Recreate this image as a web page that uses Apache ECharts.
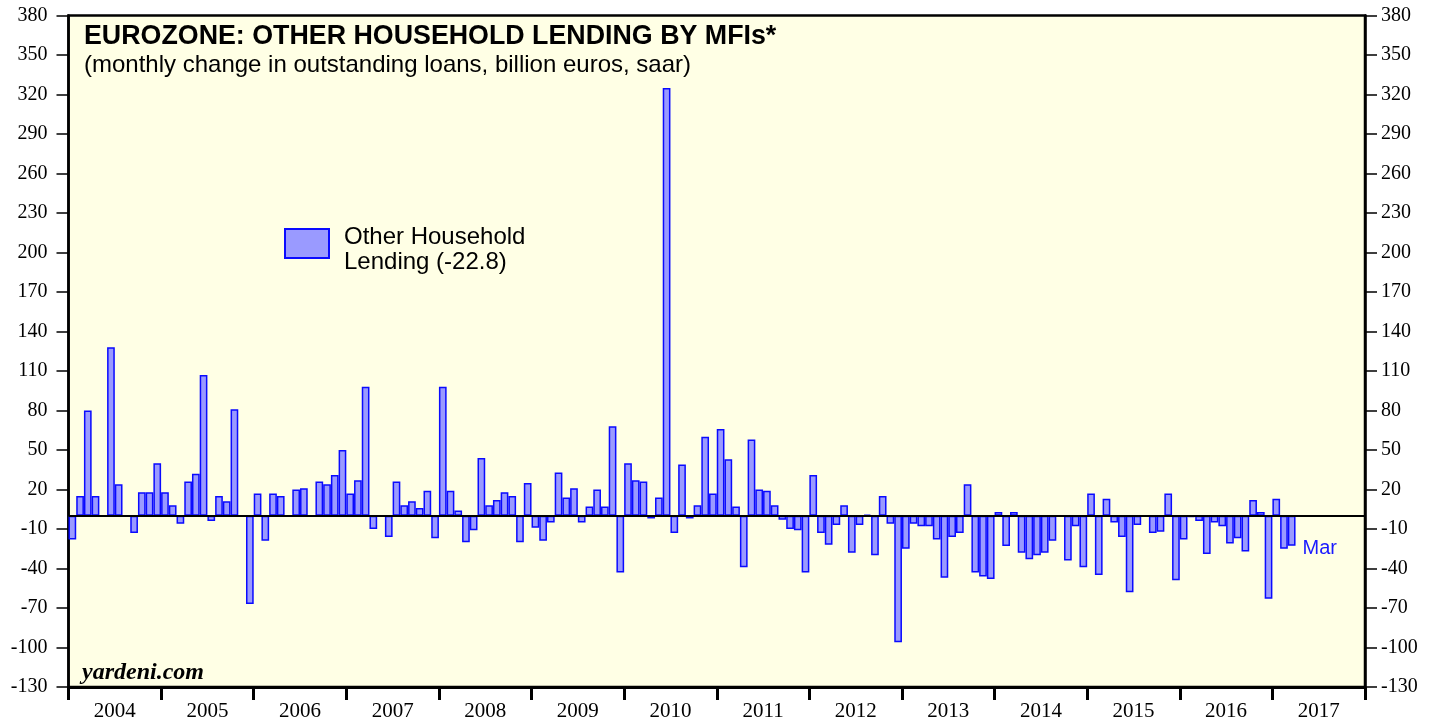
<!DOCTYPE html>
<html>
<head>
<meta charset="utf-8">
<title>Eurozone: Other Household Lending by MFIs</title>
<script src="https://cdn.jsdelivr.net/npm/echarts@6/dist/echarts.min.js"></script>
<style>
  html, body { margin: 0; padding: 0; background: #fff; }
  #chart { width: 1440px; height: 719px; }
</style>
</head>
<body>
<div id="chart"></div>
<script>
// --- data (billion euros, saar), Jan 2004 .. Mar 2017 ---
const years = ['2004', '2005', '2006', '2007', '2008', '2009', '2010',
               '2011', '2012', '2013', '2014', '2015', '2016', '2017']

const lending = [
  -18, 15, 80, 15, 0, 128, 24, 0, -13, 18, 18, 40,        // 2004
  18, 8, -6, 26, 32, 107, -4, 15, 11, 81, 0, -67,          // 2005
  17, -19, 17, 15, 0, 20, 21, 0, 26, 24, 31, 50,           // 2006
  17, 27, 98, -10, 0, -16, 26, 8, 11, 6, 19, -17,          // 2007
  98, 19, 4, -20, -11, 44, 8, 12, 18, 15, -20, 25,         // 2008
  -9, -19, -5, 33, 14, 21, -5, 7, 20, 7, 68, -43,          // 2009
  40, 27, 26, -2, 14, 325, -13, 39, -2, 8, 60, 17,         // 2010
  66, 43, 7, -39, 58, 20, 19, 8, -3, -10, -11, -43,        // 2011
  31, -13, -22, -7, 8, -28, -7, 1, -30, 15, -6, -96,       // 2012
  -25, -6, -8, -8, -18, -47, -16, -13, 24, -43, -46, -48,  // 2013
  3, -23, 3, -28, -33, -30, -28, -19, 0, -34, -8, -39,     // 2014
  17, -45, 13, -5, -16, -58, -7, 0, -13, -12, 17, -49,     // 2015
  -18, -1, -4, -29, -5, -8, -21, -17, -27, 12, 3, -63,     // 2016
  13, -25, -22.8                                           // 2017
]

const yTicks = [-130, -100, -70, -40, -10, 20, 50, 80, 110, 140,
                170, 200, 230, 260, 290, 320, 350, 380]

const seriesName = 'Other Household Lending (-22.8)'

// month categories for the whole span of the axis (14 years)
const months = []
years.forEach(y => {
  for (let m = 1; m <= 12; m++) months.push(y + '-' + String(m).padStart(2, '0'))
})

// last point carries the "Mar" tag
const barData = lending.map((v, i) => {
  if (i !== lending.length - 1) return v
  return {
    value: v,
    label: {
      show: true,
      position: 'right',
      formatter: 'Mar',
      color: '#1a1aff',
      fontFamily: 'Liberation Sans',
      fontSize: 20,
      offset: [2, 18]
    }
  }
})

const sans = 'Liberation Sans'
const serif = 'Liberation Serif'

const yAxisBase = {
  type: 'value',
  min: -130,
  max: 380,
  interval: 30,
  splitLine: { show: false },
  axisLine: { show: true, lineStyle: { color: '#000', width: 2.5 } },
  axisTick: { show: true, inside: false, length: 12, lineStyle: { color: '#000', width: 1.5 }, customValues: yTicks },
  axisLabel: { color: '#000', fontFamily: serif, fontSize: 20, customValues: yTicks }
}

const chart = echarts.init(document.getElementById('chart'))

const option = {
  animation: false,
  backgroundColor: '#fff',
  title: [
    {
      text: 'EUROZONE: OTHER HOUSEHOLD LENDING BY MFIs*',
      left: 84, top: 23, padding: 0,
      textStyle: { fontFamily: sans, fontWeight: 'bold', fontSize: 26.8, color: '#000' }
    },
    {
      text: '(monthly change in outstanding loans, billion euros, saar)',
      left: 84, top: 53, padding: 0,
      textStyle: { fontFamily: sans, fontWeight: 'normal', fontSize: 24, color: '#000' }
    },
    {
      text: 'yardeni.com',
      left: 82, top: 661, padding: 0,
      textStyle: { fontFamily: serif, fontStyle: 'italic', fontWeight: 'bold', fontSize: 24, color: '#000' }
    }
  ],
  legend: {
    left: 284, top: 218, padding: 0,
    itemWidth: 44, itemHeight: 29,
    icon: 'rect',
    data: [seriesName],
    // empty first row nudges the two text lines down against the swatch
    formatter: () => '{e| }\n{t|Other Household}\n{t|Lending (-22.8)}',
    textStyle: {
      color: '#000',
      padding: [0, 0, 0, 10],
      rich: {
        e: { fontSize: 1, lineHeight: 13 },
        t: { fontFamily: sans, fontSize: 24, lineHeight: 25, color: '#000' }
      }
    }
  },
  grid: {
    left: 68.5, right: 75, top: 15.5, bottom: 32,
    outerBoundsMode: 'none',
    show: true,
    backgroundColor: '#ffffe5',
    borderColor: '#000',
    borderWidth: 2.5
  },
  xAxis: [
    {
      type: 'category',
      data: months,
      boundaryGap: true,
      show: false
    },
    {
      type: 'category',
      data: years,
      position: 'bottom',
      boundaryGap: true,
      axisLine: { show: true, onZero: false, lineStyle: { color: '#000', width: 3 } },
      axisTick: { show: true, inside: false, length: 13, lineStyle: { color: '#000', width: 3 } },
      axisLabel: { color: '#000', fontFamily: serif, fontSize: 21, margin: 14 }
    }
  ],
  yAxis: [
    Object.assign({}, yAxisBase, {
      position: 'left',
      axisLabel: Object.assign({}, yAxisBase.axisLabel, { margin: 21 })
    }),
    Object.assign({}, yAxisBase, {
      position: 'right',
      axisLabel: Object.assign({}, yAxisBase.axisLabel, { margin: 16 })
    })
  ],
  series: [
    {
      name: seriesName,
      type: 'bar',
      xAxisIndex: 0,
      yAxisIndex: 0,
      data: barData,
      barWidth: '100%',
      barCategoryGap: '0%',
      itemStyle: { color: '#9a9aff', borderColor: '#0a0aff', borderWidth: 1.5 },
      markLine: {
        silent: true,
        symbol: 'none',
        label: { show: false },
        lineStyle: { color: '#000', width: 2, type: 'solid' },
        data: [{ yAxis: 0 }]
      }
    }
  ]
}

chart.setOption(option)
</script>
</body>
</html>
